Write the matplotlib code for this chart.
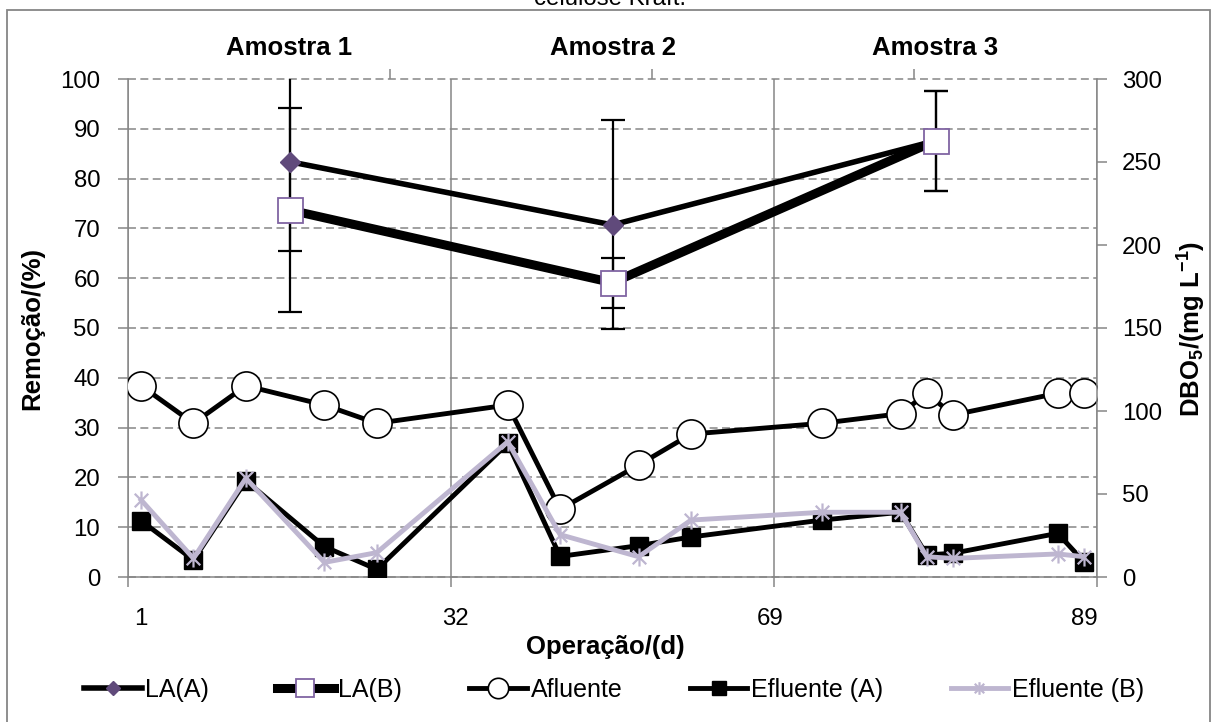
import matplotlib
matplotlib.use('Agg')
import matplotlib.pyplot as plt
from matplotlib.path import Path
from matplotlib.patches import Rectangle

plt.rcParams['font.family'] = ['Liberation Sans', 'DejaVu Sans']
plt.rcParams['mathtext.default'] = 'regular'

# categorias do eixo de operacao (37 categorias, so algumas com dados)
n_cat = 37
pos = [0, 2, 4, 7, 9, 14, 16, 19, 21, 26, 29, 30, 31, 35, 36]
xtick_idx = [0, 12, 24, 36]
xtick_labels = ['1', '32', '69', '89']

# DBO5 (mg/L)
afluente = [115.2, 92.6, 115.2, 103.6, 92.6, 103.6, 40.8, 67.5, 86.1, 92.6, 98.4, 110.7, 97.6, 110.7, 110.7]
efluente_a = [33.9, 10.2, 58.0, 18.3, 4.6, 80.5, 12.4, 18.9, 24.1, 34.3, 39.0, 13.3, 14.3, 26.3, 9.2]
efluente_b = [46.4, 11.2, 59.5, 8.8, 14.7, 81.5, 25.5, 12.2, 34.3, 39.0, 39.0, 12.2, 11.2, 13.9, 12.2]

# remocao (%) por amostra
amostras = ['Amostra 1', 'Amostra 2', 'Amostra 3']
la_a = [83.4, 70.7, 87.6]
la_a_err = [17.9, 21.0, 10.0]
la_b = [73.7, 59.1, 87.6]
la_b_err = [20.4, 5.0, 10.0]

grey = '#868686'
lav = '#BEB6D0'

fig = plt.figure(figsize=(12.12, 7.22), dpi=100)
ax = fig.add_axes([128 / 1212, 1 - 577 / 722, 969 / 1212, 498 / 722])

x = [p + 0.5 for p in pos]

ax.set_xlim(0, n_cat)
ax.set_ylim(0, 100)
ax.set_yticks(range(0, 101, 10))
ax.set_xticks([i + 0.5 for i in xtick_idx], xtick_labels)
ax.set_xticks([n_cat * k / 3 for k in range(4)], minor=True)
ax.tick_params(axis='x', which='major', length=0, pad=22, labelsize=17.3)
ax.tick_params(axis='x', which='minor', length=7, width=1.1, color=grey)
ax.tick_params(axis='y', length=7, width=1.1, color=grey, pad=13, labelsize=17.3)
ax.grid(axis='y', which='major', color=grey, ls=(0, (5.2, 2.9)), lw=1.1)
ax.grid(axis='x', which='minor', color=grey, lw=1.1)
for gl in ax.get_ygridlines():
    gl.set_clip_on(False)
for s in ['top', 'right']:
    ax.spines[s].set_visible(False)
for s in ['left', 'bottom']:
    ax.spines[s].set_color(grey)
    ax.spines[s].set_linewidth(1.1)

# pequenas marcas no topo
sec = ax.secondary_xaxis('top')
sec.set_xticks([10, 20, 30])
sec.tick_params(length=7, width=1.1, color=grey, labeltop=False)
sec.spines['top'].set_visible(False)

# eixo direito: DBO5
ax_r = ax.twinx()
ax_r.set_ylim(0, 300)
ax_r.set_yticks(range(0, 301, 50))
ax_r.tick_params(axis='y', length=7, width=1.1, color=grey, pad=11, labelsize=17.3)
for s in ['top', 'left', 'bottom']:
    ax_r.spines[s].set_visible(False)
ax_r.spines['right'].set_color(grey)
ax_r.spines['right'].set_linewidth(1.1)

asterisk = Path([(0, -1), (0, 1), (-0.75, -0.75), (0.75, 0.75), (-0.75, 0.75), (0.75, -0.75)],
                [Path.MOVETO, Path.LINETO, Path.MOVETO, Path.LINETO, Path.MOVETO, Path.LINETO])

h_af, = ax_r.plot(x, afluente, color='black', lw=3.5, marker='o', ms=21,
                  mfc='white', mec='black', mew=1.2, label='Afluente', zorder=2)
h_ea, = ax_r.plot(x, efluente_a, color='black', lw=3.5, marker='s', ms=13.5,
                  label='Efluente (A)', zorder=3)
h_eb, = ax_r.plot(x, efluente_b, color=lav, lw=3.5, marker=asterisk, ms=13,
                  mfc='none', mec=lav, mew=1.6, label='Efluente (B)', zorder=4)

# eixo superior: amostras
ax_top = ax.twiny()
ax_top.set_xlim(0, len(amostras))
xa = [i + 0.5 for i in range(len(amostras))]
ax_top.set_xticks(xa, amostras, fontsize=18.5, fontweight='bold')
ax_top.tick_params(axis='x', length=0, pad=13.5)
for s in ax_top.spines.values():
    s.set_visible(False)

ax_top.errorbar(xa, la_a, yerr=la_a_err, fmt='none', ecolor='black',
                elinewidth=1.6, capsize=8.5, capthick=1.6, zorder=1)
ax_top.errorbar(xa, la_b, yerr=la_b_err, fmt='none', ecolor='black',
                elinewidth=1.6, capsize=8.5, capthick=1.6, zorder=1)
h_la, = ax_top.plot(xa, la_a, color='black', lw=4, marker='D', ms=10,
                    mfc='#604A7B', mec='#604A7B', label='LA(A)', zorder=2)
h_lb, = ax_top.plot(xa, la_b, color='black', lw=6.5, marker='s', ms=18,
                    mfc='white', mec='#8064A2', mew=1.3, label='LA(B)', zorder=3)

fig.text(32 / 1212, 1 - 328 / 722, 'Remoção/(%)', rotation=90, fontsize=18.5,
         fontweight='bold', ha='center', va='center')
fig.text(1192 / 1212, 1 - 329 / 722, 'DBO$_5$/(mg L$^{-1}$)', rotation=90, fontsize=18.5,
         fontweight='bold', ha='center', va='center')
fig.text(605 / 1212, 1 - 647 / 722, 'Operação/(d)', fontsize=18.5,
         fontweight='bold', ha='center', va='center')
fig.text(610 / 1212, 1 - 5 / 722, 'celulose Kraft.', fontsize=17.3,
         ha='center', va='baseline')

fig.legend([h_la, h_lb, h_af, h_ea, h_eb],
           ['LA(A)', 'LA(B)', 'Afluente', 'Efluente (A)', 'Efluente (B)'],
           loc='center', bbox_to_anchor=(614 / 1212, 1 - 690 / 722), ncol=5,
           frameon=False, fontsize=18, handlelength=2.3, handletextpad=0.15,
           columnspacing=2.7, markerscale=0.7)

fig.patches.append(Rectangle((7 / 1212, -0.1), 1203 / 1212, 1.1 - 10 / 722,
                             transform=fig.transFigure, fill=False,
                             ec=grey, lw=1.3))

fig.savefig('out.png', dpi=100)
